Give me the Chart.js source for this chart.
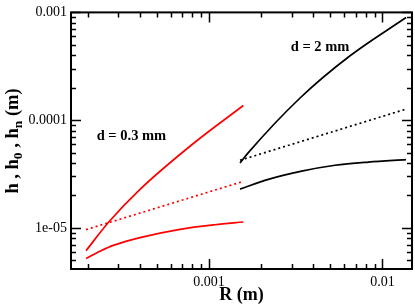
<!DOCTYPE html>
<html><head><meta charset="utf-8">
<script src="https://cdn.jsdelivr.net/npm/chart.js@4/dist/chart.umd.min.js"></script>
<style>html,body{margin:0;padding:0;background:#fff}#wrap{width:415px;height:308px;position:relative}</style>
</head><body><div id="wrap"><canvas id="c"></canvas></div>
<script>
// ---- data ----
const redUpperR = [1.953e-4, 2.626e-4, 4.0e-4, 8.12e-4, 1.577e-3];
const redUpperH = [6.13e-6, 1.122e-5, 2.278e-5, 6.07e-5, 1.367e-4];
const redDottedR = [1.953e-4, 1.577e-3];
const redDottedH = [9.63e-6, 2.70e-5];
const redLowerR = [1.953e-4, 2.351e-4, 2.806e-4, 4.0e-4, 6.80e-4, 1.083e-3, 1.577e-3];
const redLowerH = [5.19e-6, 6.07e-6, 6.87e-6, 8.12e-6, 9.69e-6, 1.069e-5, 1.133e-5];

const blackUpperR = [1.509e-3, 1.685e-3, 3.348e-3, 6.503e-3, 1.368e-2];
const blackUpperH = [4.0e-5, 4.99e-5, 1.605e-4, 3.956e-4, 8.97e-4];
const blackDottedR = [1.509e-3, 1.368e-2];
const blackDottedH = [4.24e-5, 1.266e-4];
const blackLowerR = [1.509e-3, 2.198e-3, 3.424e-3, 5.33e-3, 8.29e-3, 1.368e-2];
const blackLowerH = [2.29e-5, 2.822e-5, 3.363e-5, 3.81e-5, 4.08e-5, 4.30e-5];

const xMajorTicks = [0.001, 0.01];
const xTickLabels = ['0.001', '0.01'];
const xMinorTicks = [2e-4, 3e-4, 4e-4, 5e-4, 6e-4, 7e-4, 8e-4, 9e-4, 2e-3, 3e-3, 4e-3, 5e-3, 6e-3, 7e-3, 8e-3, 9e-3];
const yMajorTicks = [1e-5, 1e-4, 1e-3];
const yTickLabels = ['1e-05', '0.0001', '0.001'];
const yMinorTicks = [5e-6, 6e-6, 7e-6, 8e-6, 9e-6, 2e-5, 3e-5, 4e-5, 5e-5, 6e-5, 7e-5, 8e-5, 9e-5, 2e-4, 3e-4, 4e-4, 5e-4, 6e-4, 7e-4, 8e-4, 9e-4];

const xTitle = 'R (m)';
const yTitleParts = [['h , h', false], ['0', true], [' , h', false], ['n', true], [' (m)', false]];
const annotations = [
  {text: 'd = 0.3 mm', R: 2.25e-4, H: 7.16e-5},
  {text: 'd = 2 mm', R: 2.96e-3, H: 4.70e-4}
];

function pts(xs, ys) { return xs.map((x, i) => ({x: x, y: ys[i]})); }

const RED = '#ff0000', BLACK = '#000000';
function ds(xs, ys, color, dotted) {
  return {
    data: pts(xs, ys), borderColor: color, backgroundColor: color,
    borderWidth: 1.7, pointRadius: 0, showLine: true, fill: false,
    cubicInterpolationMode: 'monotone',
    borderDash: dotted ? [2, 3] : []
  };
}

const FONT = '"Liberation Serif", "Times New Roman", serif';

const decor = {
  id: 'decor',
  afterDraw(chart) {
    const ctx = chart.ctx, a = chart.chartArea;
    const xs = chart.scales.x, ys = chart.scales.y;
    ctx.save();
    ctx.strokeStyle = '#000';
    ctx.lineWidth = 1.5;
    function tickX(v, len) {
      const p = Math.round(xs.getPixelForValue(v)) + 0.5;
      ctx.beginPath();
      ctx.moveTo(p, a.bottom); ctx.lineTo(p, a.bottom - len);
      ctx.moveTo(p, a.top); ctx.lineTo(p, a.top + len);
      ctx.stroke();
    }
    function tickY(v, len) {
      const p = Math.round(ys.getPixelForValue(v)) + 0.5;
      ctx.beginPath();
      ctx.moveTo(a.left, p); ctx.lineTo(a.left + len, p);
      ctx.moveTo(a.right, p); ctx.lineTo(a.right - len, p);
      ctx.stroke();
    }
    xMinorTicks.forEach(v => tickX(v, 5));
    xMajorTicks.forEach(v => tickX(v, 10));
    yMinorTicks.forEach(v => tickY(v, 5));
    yMajorTicks.forEach(v => tickY(v, 10));
    ctx.lineWidth = 2;
    ctx.strokeRect(a.left, a.top, a.right - a.left, a.bottom - a.top);

    // annotations
    ctx.fillStyle = '#000';
    ctx.font = 'bold 14.5px ' + FONT;
    ctx.textAlign = 'left';
    ctx.textBaseline = 'middle';
    annotations.forEach(an => {
      ctx.fillText(an.text, xs.getPixelForValue(an.R), ys.getPixelForValue(an.H));
    });

    // x title
    ctx.font = 'bold 18px ' + FONT;
    ctx.textAlign = 'center';
    ctx.textBaseline = 'alphabetic';
    ctx.fillText(xTitle, (a.left + a.right) / 2, 300);

    // y title with subscripts
    const mainF = 'bold 18.5px ' + FONT, subF = 'bold 13.5px ' + FONT;
    let total = 0;
    yTitleParts.forEach(p => { ctx.font = p[1] ? subF : mainF; total += ctx.measureText(p[0]).width; });
    ctx.translate(17.5, 141);
    ctx.rotate(-Math.PI / 2);
    ctx.textAlign = 'left';
    let x = -total / 2;
    yTitleParts.forEach(p => {
      ctx.font = p[1] ? subF : mainF;
      ctx.fillText(p[0], x, p[1] ? 4.5 : 0);
      x += ctx.measureText(p[0]).width;
    });
    ctx.restore();
  }
};

new Chart(document.getElementById('c'), {
  type: 'scatter',
  data: {
    datasets: [
      ds(redUpperR, redUpperH, RED, false),
      ds(redDottedR, redDottedH, RED, true),
      ds(redLowerR, redLowerH, RED, false),
      ds(blackUpperR, blackUpperH, BLACK, false),
      ds(blackDottedR, blackDottedH, BLACK, true),
      ds(blackLowerR, blackLowerH, BLACK, false)
    ]
  },
  options: {
    responsive: true, maintainAspectRatio: false, animation: false,
    layout: {padding: {left: 0, right: 3, top: 6, bottom: 0}},
    plugins: {legend: {display: false}, tooltip: {enabled: false}},
    scales: {
      x: {
        type: 'logarithmic', min: 1.6e-4, max: 0.0148,
        afterFit(s) { s.height = 39; },
        afterBuildTicks(s) { s.ticks = xMajorTicks.map(v => ({value: v})); },
        ticks: {
          callback: (v, i) => xTickLabels[i],
          font: {family: FONT, size: 14}, color: '#000', padding: 5,
          maxRotation: 0, autoSkip: false
        },
        grid: {display: false, drawTicks: false},
        border: {display: false}
      },
      y: {
        type: 'logarithmic', min: 4.15e-6, max: 1e-3,
        afterFit(s) { s.width = 71; },
        afterBuildTicks(s) { s.ticks = yMajorTicks.map(v => ({value: v})); },
        ticks: {
          callback: (v, i) => yTickLabels[i],
          font: {family: FONT, size: 14}, color: '#000', padding: 4,
          autoSkip: false
        },
        grid: {display: false, drawTicks: false},
        border: {display: false}
      }
    }
  },
  plugins: [decor]
});
</script>
</body></html>
